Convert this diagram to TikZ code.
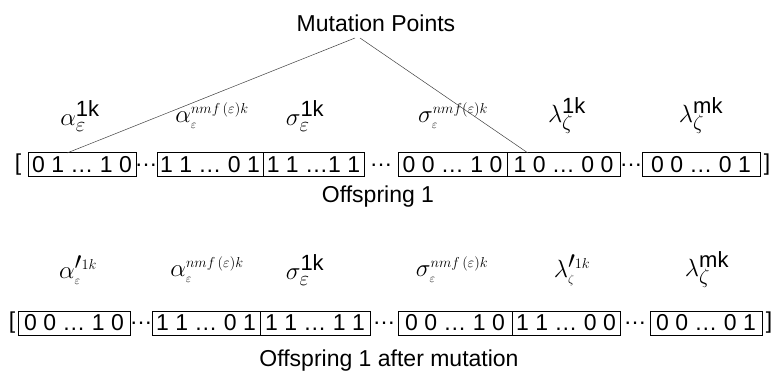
\documentclass[tikz,border=0pt]{standalone}
\usepackage{fontspec}
\setmainfont{Liberation Sans}
\newcommand{\bigsup}[1]{\mbox{\fontsize{22}{22}\selectfont #1}}
\newcommand{\bigsub}[1]{\mbox{\fontsize{22}{22}\selectfont$#1$}}
\newcommand{\smsup}[1]{\mbox{\fontsize{14}{14}\selectfont$#1$}}
\newcommand{\smsub}[1]{\mbox{\fontsize{13}{13}\selectfont$#1$}}
\begin{document}
\begin{tikzpicture}[x=1pt,y=-1pt,
  bx/.style={draw, line width=0.8pt, inner sep=0pt, minimum height=24pt, font=\fontsize{23}{23}\selectfont},
  txt/.style={inner sep=0pt, font=\fontsize{23}{23}\selectfont},
  ttl/.style={inner sep=0pt, font=\fontsize{23}{23}\selectfont},
  lbl/.style={inner sep=0pt, font=\fontsize{34}{34}\selectfont},
  mline/.style={line width=0.5pt, black!75}]
\useasboundingbox (0,0) rectangle (778,376);

\node[ttl] (mp) at (376,23) {Mutation Points};

% Row 1 labels
\node[lbl] (la1) at (80,116) {$\alpha_{\bigsub{\varepsilon}}^{\bigsup{1k}}$};
\node[lbl] (la2) at (212,116) {$\alpha_{\smsub{\varepsilon}}^{\smsup{nmf\,(\varepsilon)k}}$};
\node[lbl] (la3) at (305,116) {$\sigma_{\bigsub{\varepsilon}}^{\bigsup{1k}}$};
\node[lbl] (la4) at (453,116) {$\sigma_{\smsub{\varepsilon}}^{\smsup{nmf(\varepsilon)k}}$};
\node[lbl] (la5) at (567,116) {$\lambda_{\bigsub{\zeta}}^{\bigsup{1k}}$};
\node[lbl] (la6) at (701,116) {$\lambda_{\bigsub{\zeta}}^{\bigsup{mk}}$};

% Row 1 boxes
\node[txt] (ob1) at (18,165) {[};
\node[bx, minimum width=108pt] (b1) at (82,164.5) {0 1 … 1 0};
\node[txt] (d1) at (146,165) {…};
\node[bx, minimum width=106pt] (b2) at (210,164.5) {1 1 … 0 1};
\node[bx, minimum width=101pt] (b3) at (313.5,164.5) {1 1 …1 1};
\node[txt] (d2) at (381,165) {…};
\node[bx, minimum width=109pt] (b4) at (452.5,164.5) {0 0 … 1 0};
\node[bx, minimum width=113pt] (b5) at (563.5,164.5) {1 0 … 0 0};
\node[txt] (d3) at (631,165) {…};
\node[bx, minimum width=118pt] (b6) at (701,164.5) {0 0 … 0 1};
\node[txt] (cb1) at (767,165) {]};

\node[ttl] (off1) at (378,197) {Offspring 1};

% mutation point lines
\coordinate (m1) at (355,38);
\coordinate (m2) at (360,38);
\coordinate (p1) at (67,153);
\coordinate (p2) at (528,153);
\draw[mline] (m1) -- (p1);
\draw[mline] (m2) -- (p2);

% Row 2 labels
\node[lbl] (lb1) at (78,270) {$\alpha'^{\smsup{1k}}_{\smsub{\varepsilon}}$};
\node[lbl] (lb2) at (207,270) {$\alpha_{\smsub{\varepsilon}}^{\smsup{nmf\,(\varepsilon)k}}$};
\node[lbl] (lb3) at (305,270) {$\sigma_{\bigsub{\varepsilon}}^{\bigsup{1k}}$};
\node[lbl] (lb4) at (452,270) {$\sigma_{\smsub{\varepsilon}}^{\smsup{nmf\,(\varepsilon)k}}$};
\node[lbl] (lb5) at (572,270) {$\lambda'^{\smsup{1k}}_{\smsub{\zeta}}$};
\node[lbl] (lb6) at (707,270) {$\lambda_{\bigsub{\zeta}}^{\bigsup{mk}}$};

% Row 2 boxes
\node[txt] (ob2) at (12,323) {[};
\node[bx, minimum width=112pt] (c1) at (74,323) {0 0 … 1 0};
\node[txt] (e1) at (141,323) {…};
\node[bx, minimum width=108pt] (c2) at (206,323) {1 1 … 0 1};
\node[bx, minimum width=110pt] (c3) at (315,323) {1 1 … 1 1};
\node[txt] (e2) at (384,323) {…};
\node[bx, minimum width=114pt] (c4) at (455,323) {0 0 … 1 0};
\node[bx, minimum width=108pt] (c5) at (566,323) {1 1 … 0 0};
\node[txt] (e3) at (635,323) {…};
\node[bx, minimum width=112pt] (c6) at (706,323) {0 0 … 0 1};
\node[txt] (cb2) at (769,323) {]};

\node[ttl] (off2) at (389,361) {Offspring 1 after mutation};
\end{tikzpicture}
\end{document}
